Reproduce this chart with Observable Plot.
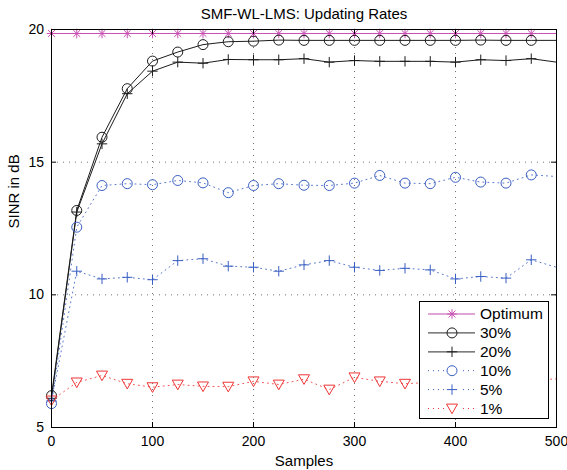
<!DOCTYPE html>
<html>
<head>
<meta charset="utf-8">
<script src="https://cdn.jsdelivr.net/npm/d3@7"></script>
<script src="https://cdn.jsdelivr.net/npm/@observablehq/plot@0.6"></script>
<style>
  html, body { margin: 0; padding: 0; background: #fff; }
  #chart svg { display: block; }
</style>
</head>
<body>
<div id="chart"></div>
<script>
// ---------------- data ----------------
const samples = [0, 25, 50, 75, 100, 125, 150, 175, 200, 225, 250, 275, 300, 325, 350, 375, 400, 425, 450, 475, 500];
const optimum = [19.85, 19.85, 19.85, 19.85, 19.85, 19.85, 19.85, 19.85, 19.85, 19.85, 19.85, 19.85, 19.85, 19.85, 19.85, 19.85, 19.85, 19.85, 19.85, 19.85, 19.85];
const rate30  = [6.20, 13.18, 15.94, 17.77, 18.81, 19.15, 19.43, 19.54, 19.56, 19.60, 19.59, 19.59, 19.59, 19.59, 19.59, 19.59, 19.59, 19.60, 19.59, 19.59, 19.59];
const rate20  = [6.10, 13.12, 15.69, 17.58, 18.43, 18.77, 18.73, 18.87, 18.86, 18.86, 18.90, 18.77, 18.83, 18.80, 18.80, 18.80, 18.77, 18.86, 18.83, 18.90, 18.77];
const rate10  = [5.90, 12.55, 14.12, 14.19, 14.15, 14.31, 14.22, 13.85, 14.12, 14.19, 14.13, 14.12, 14.21, 14.50, 14.21, 14.19, 14.43, 14.25, 14.21, 14.52, 14.46];
const rate5   = [6.00, 10.89, 10.60, 10.66, 10.57, 11.29, 11.36, 11.08, 11.04, 10.89, 11.13, 11.29, 11.04, 10.92, 11.00, 10.94, 10.60, 10.69, 10.63, 11.32, 11.04];
const rate1   = [6.02, 6.70, 6.96, 6.65, 6.52, 6.62, 6.55, 6.54, 6.74, 6.62, 6.82, 6.43, 6.89, 6.74, 6.65, 6.70, 6.60, 6.75, 6.65, 6.80, 6.83];
const seriesNames = ["Optimum", "30%", "20%", "10%", "5%", "1%"];
const xTicks = [0, 100, 200, 300, 400, 500];
const yTicks = [5, 10, 15, 20];
const xGrid = [100, 200, 300, 400];
const yGrid = [10, 15];
const titleText = "SMF-WL-LMS: Updating Rates";
const xLabel = "Samples";
const yLabel = "SINR in dB";
const lastMarkerSample = 475;

// ---------------- symbols ----------------
const rad = size => Math.sqrt(size / Math.PI);
const plusSym = { draw(c, size) { const r = rad(size); c.moveTo(-r, 0); c.lineTo(r, 0); c.moveTo(0, -r); c.lineTo(0, r); } };
const starSym = { draw(c, size) { const r = rad(size), d = r * 0.72;
  c.moveTo(-r, 0); c.lineTo(r, 0); c.moveTo(0, -r); c.lineTo(0, r);
  c.moveTo(-d, -d); c.lineTo(d, d); c.moveTo(-d, d); c.lineTo(d, -d); } };
const triDownSym = { draw(c, size) { const r = rad(size);
  c.moveTo(-r, -r * 0.8); c.lineTo(r, -r * 0.8); c.lineTo(0, r * 0.95); c.closePath(); } };
const circleSym = d3.symbolCircle;

const MAGENTA = "#c84fb2", BLACK = "#1c1c1c", BLUE = "#3a5fc2", RED = "#ee3535";
const series = [
  { name: seriesNames[0], values: optimum, color: MAGENTA, dash: null, sym: starSym, r: 4.8, legendLine: "#d487c6" },
  { name: seriesNames[1], values: rate30, color: BLACK, dash: null, sym: circleSym, r: 5, legendLine: "#555" },
  { name: seriesNames[2], values: rate20, color: BLACK, dash: null, sym: plusSym, r: 5.2, legendLine: "#555" },
  { name: seriesNames[3], values: rate10, color: BLUE, dash: "1,4", sym: circleSym, r: 5, legendLine: BLUE },
  { name: seriesNames[4], values: rate5, color: BLUE, dash: "1,4", sym: plusSym, r: 5.2, legendLine: BLUE },
  { name: seriesNames[5], values: rate1, color: RED, dash: "1,4", sym: triDownSym, r: 5.5, legendLine: RED }
];

const FONT = "'Liberation Sans', Arial, Helvetica, sans-serif";
const W = 567, H = 470;
const mL = 51, mR = 11, mT = 29, mB = 43;
const innerW = W - mL - mR, innerH = H - mT - mB, tickLen = 5;

const marks = [
  Plot.ruleX(xGrid, { x: d => d, stroke: "#000", strokeOpacity: 0.55, strokeDasharray: "1,5" }),
  Plot.ruleY(yGrid, { y: d => d, stroke: "#000", strokeOpacity: 0.55, strokeDasharray: "1,5" })
];
for (const s of series) {
  const pts = samples.map((x, i) => ({ x, y: s.values[i] }));
  marks.push(Plot.line(pts, { x: "x", y: "y", stroke: s.color, strokeWidth: 1, strokeDasharray: s.dash, strokeOpacity: s.dash ? 0.85 : 1 }));
}
for (const s of series) {
  const pts = samples.map((x, i) => ({ x, y: s.values[i] })).filter(d => d.x <= lastMarkerSample);
  marks.push(Plot.dot(pts, { x: "x", y: "y", symbol: s.sym, r: s.r, stroke: s.color, fill: "none", strokeWidth: 1 }));
}
marks.push(
  Plot.frame({ stroke: "#000", strokeWidth: 1 }),
  // inward ticks (MATLAB style) on all four sides
  Plot.tickX(xTicks, { x: d => d, insetTop: innerH - tickLen, stroke: "#000" }),
  Plot.tickX(xTicks, { x: d => d, insetBottom: innerH - tickLen, stroke: "#000" }),
  Plot.tickY(yTicks, { y: d => d, insetRight: innerW - tickLen, stroke: "#000" }),
  Plot.tickY(yTicks, { y: d => d, insetLeft: innerW - tickLen, stroke: "#000" }),
  Plot.axisX(xTicks, { tickSize: 0, tickPadding: 9, label: null, fontSize: 14, fill: "#000" }),
  Plot.axisY(yTicks, { tickSize: 0, tickPadding: 7.5, label: null, fontSize: 14, fill: "#000" }),
  Plot.text([titleText], { text: d => d, frameAnchor: "top", dy: -15.3, lineAnchor: "middle", fontSize: 15, fill: "#000" }),
  Plot.text([xLabel], { text: d => d, frameAnchor: "bottom", dy: 34, lineAnchor: "middle", fontSize: 15, fill: "#000" }),
  Plot.text([yLabel], { text: d => d, frameAnchor: "left", dx: -37, rotate: -90, lineAnchor: "middle", fontSize: 15, fill: "#000" })
);

const svg = Plot.plot({
  width: W, height: H,
  marginLeft: mL, marginRight: mR, marginTop: mT, marginBottom: mB,
  x: { domain: [0, 500], axis: null },
  y: { domain: [5, 20], axis: null },
  style: { fontFamily: FONT, fontSize: "14px", background: "#fff", color: "#000", overflow: "visible" },
  marks
});
document.getElementById("chart").appendChild(svg);

// ---------------- legend ----------------
const lg = d3.select(svg).append("g").attr("font-family", FONT).attr("font-size", 15.5).attr("text-anchor", "start");
const box = { x: 419.5, y: 301.5, w: 129, h: 117 };
lg.append("rect").attr("x", box.x).attr("y", box.y).attr("width", box.w).attr("height", box.h)
  .attr("fill", "#fff").attr("stroke", "#000").attr("stroke-width", 1);
series.forEach((s, i) => {
  const cy = 314 + i * 18.9;
  lg.append("line").attr("x1", 428).attr("x2", 475).attr("y1", cy).attr("y2", cy)
    .attr("stroke", s.legendLine).attr("stroke-width", s.dash ? 1 : 1.3)
    .attr("stroke-dasharray", s.dash ? "1,4" : null);
  if (s.dash) {
    lg.append("rect").attr("x", 445).attr("y", cy - 7).attr("width", 14).attr("height", 14).attr("fill", "#fff");
  }
  lg.append("path").attr("transform", `translate(452,${cy})`)
    .attr("d", d3.symbol(s.sym, s.r * s.r * Math.PI)())
    .attr("fill", s.dash ? "#fff" : "none").attr("stroke", s.color).attr("stroke-width", 1);
  lg.append("text").attr("x", 480).attr("y", cy).attr("dy", "0.35em").attr("text-anchor", "start")
    .attr("fill", "#000").text(s.name);
});
</script>
</body>
</html>
